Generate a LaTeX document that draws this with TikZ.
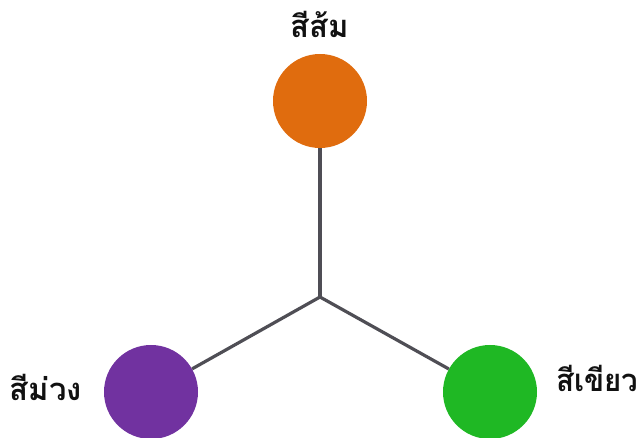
\documentclass[tikz,border=0pt]{standalone}
\usepackage{fontspec}
\newfontfamily\thaifont[Script=Thai]{Loma}
\usetikzlibrary{positioning}
\definecolor{orng}{HTML}{E06C0E}
\definecolor{purp}{HTML}{7132A0}
\definecolor{grn}{HTML}{1FB824}
\definecolor{stem}{HTML}{4F4E55}
\definecolor{ink}{HTML}{111111}

\begin{document}
\begin{tikzpicture}[
    x=1pt,y=-1pt,
    font=\thaifont\bfseries\fontsize{31}{36}\selectfont,
    dot/.style={circle,inner sep=0pt,minimum size=94pt},
    arm/.style={draw=stem,line width=3.2pt},
    tag/.style={ink,inner sep=0pt},
  ]
  \useasboundingbox (0,0) rectangle (641,438);

  % ============================================================= DOTS
  \coordinate (hub) at (320,297);
  \node[dot,fill=orng] (orange) at (320,101){};
  \node[dot,fill=purp] (purple) at (151,392){};
  \node[dot,fill=grn]  (green)  at (490,392){};

  % ============================================================= ARMS
  \draw[arm] (hub) -- (orange);
  \draw[arm] (hub) -- (purple);
  \draw[arm] (hub) -- (green);

  % ============================================================= LABELS
  \node[tag,above=16pt of orange] (lorange) {สีส้ม};
  \node[tag,left=22pt of purple,yshift=5pt] (lpurple) {สีม่วง};
  \node[tag,right=19pt of green,yshift=14pt,xscale=0.95] (lgreen) {สีเขียว};

\end{tikzpicture}
\end{document}
